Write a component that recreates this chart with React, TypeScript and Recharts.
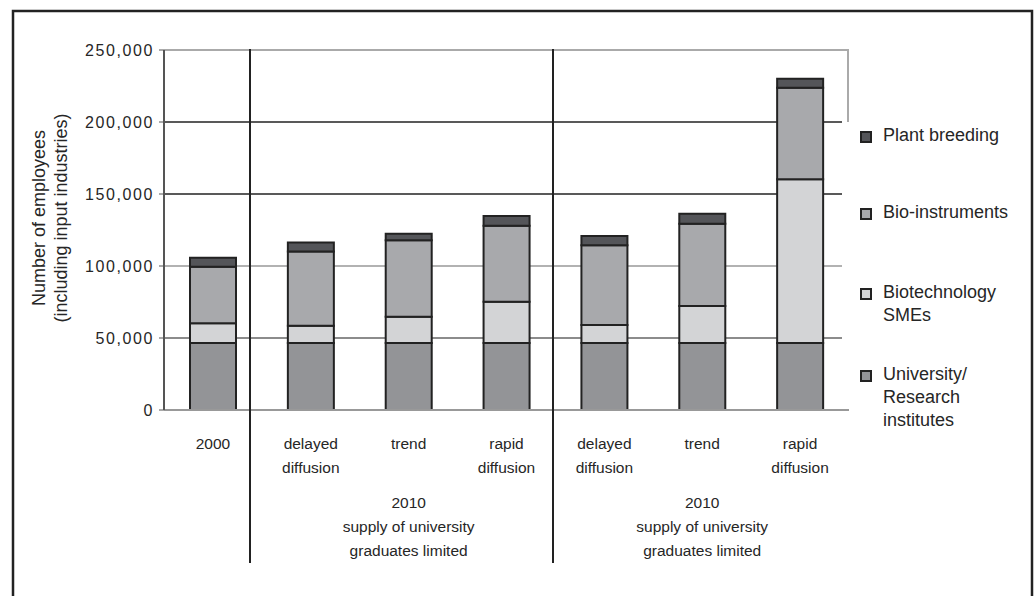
import React from "react";
import { BarChart, Bar, XAxis, YAxis, CartesianGrid } from "recharts";

// Values (employees, stacked bottom → top)
const CATEGORIES = [
  "2000",
  "delayed\ndiffusion",
  "trend",
  "rapid\ndiffusion",
  "delayed\ndiffusion",
  "trend",
  "rapid\ndiffusion",
];
const UNIVERSITY = [46500, 46500, 46500, 46500, 46500, 46500, 46500];
const SMES = [13700, 12000, 18300, 28700, 12500, 25700, 113700];
const BIO_INSTRUMENTS = [39300, 51500, 53000, 52800, 55400, 57200, 63600];
const PLANT_BREEDING = [6300, 6400, 4600, 6700, 6400, 6900, 6300];

const Y_TICKS = [0, 50000, 100000, 150000, 200000, 250000];
const GROUP_LABEL = ["2010", "supply of university", "graduates limited"];
const GROUP_CENTERS = [2, 5]; // category index under which the group caption sits

const SERIES = [
  { key: "plant", name: "Plant breeding", color: "#545559" },
  { key: "bio", name: "Bio-instruments", color: "#a8a9ac" },
  { key: "sme", name: "Biotechnology\nSMEs", color: "#d3d4d6" },
  { key: "uni", name: "University/\nResearch\ninstitutes", color: "#939497" },
];

const data = CATEGORIES.map((label, i) => ({
  id: i,
  label,
  uni: UNIVERSITY[i],
  sme: SMES[i],
  bio: BIO_INSTRUMENTS[i],
  plant: PLANT_BREEDING[i],
}));

const FONT = "'Liberation Sans', Arial, sans-serif";
const INK = "#262626";
const EDGE = "#222";
const GRID_COLOR: Record<number, string> = {
  50000: "#666",
  100000: "#999",
  150000: "#222",
  200000: "#222",
};
const LEGEND_TOPS = [124, 201, 281, 363];

function CategoryTick(props: any) {
  const { x, y, payload, index } = props;
  const lines = CATEGORIES[payload.value].split("\n");
  return (
    <g>
      {lines.map((t, i) => (
        <text key={i} x={x} y={y + 39 + i * 24} textAnchor="middle" fontSize={15.5} fill={INK} fontFamily={FONT}>
          {t}
        </text>
      ))}
      {GROUP_CENTERS.includes(index) &&
        GROUP_LABEL.map((t, i) => (
          <text key={"g" + i} x={x} y={y + 98 + i * 24} textAnchor="middle" fontSize={15.5} fill={INK} fontFamily={FONT}>
            {t}
          </text>
        ))}
    </g>
  );
}

function GridShape(props: any) {
  const { x1, x2, y1, y2, stroke } = props;
  return <line x1={x1} x2={x2 - 7} y1={y1} y2={y2} stroke={stroke} strokeWidth={1.5} />;
}

function LegendBox() {
  return (
    <div style={{ position: "absolute", left: 860, top: 0, width: 170, height: 596 }}>
      {SERIES.map((s, i) => (
        <div key={s.key} style={{ position: "absolute", left: 0, top: LEGEND_TOPS[i], display: "flex" }}>
          <div
            style={{
              width: 8,
              height: 8,
              marginTop: 7,
              background: s.color,
              border: `2px solid ${EDGE}`,
            }}
          />
          <div
            style={{
              marginLeft: 11,
              fontSize: 18,
              lineHeight: "23px",
              color: INK,
              fontFamily: FONT,
              whiteSpace: "pre",
            }}
          >
            {s.name}
          </div>
        </div>
      ))}
    </div>
  );
}

export default function App() {
  return (
    <div
      style={{
        position: "absolute",
        left: 0,
        top: 0,
        width: 1036,
        height: 596,
        background: "#fff",
        fontFamily: FONT,
        overflow: "hidden",
      }}
    >
      <BarChart
        width={1036}
        height={596}
        data={data}
        margin={{ top: 50, right: 187, bottom: 36, left: 104 }}
        barSize={46}
      >
        {Y_TICKS.filter((v) => GRID_COLOR[v]).map((v) => (
          <CartesianGrid
            key={v}
            vertical={false}
            horizontalValues={[v]}
            stroke={GRID_COLOR[v]}
            horizontal={<GridShape />}
          />
        ))}
        <CartesianGrid vertical={false} horizontalValues={[250000]} stroke="#aaa" strokeWidth={2} />
        <XAxis
          dataKey="id"
          type="category"
          height={150}
          interval={0}
          tickLine={false}
          tickSize={0}
          tickMargin={0}
          axisLine={{ stroke: "#999", strokeWidth: 2 }}
          tick={<CategoryTick />}
        />
        <YAxis
          width={60}
          domain={[0, 250000]}
          ticks={Y_TICKS}
          interval={0}
          tickSize={5}
          tickMargin={5}
          axisLine={{ stroke: "#555", strokeWidth: 2 }}
          tickLine={{ stroke: "#555" }}
          tick={{ fontSize: 16, fill: INK, fontFamily: FONT, letterSpacing: 1.6 }}
          tickFormatter={(v: number) => v.toLocaleString("en-US")}
        />
        <Bar dataKey="uni" stackId="a" fill="#939497" stroke={EDGE} strokeWidth={2} isAnimationActive={false} />
        <Bar dataKey="sme" stackId="a" fill="#d3d4d6" stroke={EDGE} strokeWidth={2} isAnimationActive={false} />
        <Bar dataKey="bio" stackId="a" fill="#a8a9ac" stroke={EDGE} strokeWidth={2} isAnimationActive={false} />
        <Bar dataKey="plant" stackId="a" fill="#545559" stroke={EDGE} strokeWidth={2} isAnimationActive={false} />
      </BarChart>

      <LegendBox />

      {/* frame, group separators, plot-area bracket and axis title */}
      <svg width={1036} height={596} style={{ position: "absolute", left: 0, top: 0, pointerEvents: "none" }}>
        <path d="M13,605 L13,11 L1032,11 L1032,605" fill="none" stroke={EDGE} strokeWidth={2.5} />
        <line x1={250} x2={250} y1={49} y2={563} stroke={EDGE} strokeWidth={2} />
        <line x1={553} x2={553} y1={49} y2={563} stroke={EDGE} strokeWidth={2} />
        <line x1={848} x2={848} y1={49} y2={122} stroke="#aaa" strokeWidth={2} />
        <g transform="translate(45,218) rotate(-90)">
          <text x={0} y={0} textAnchor="middle" fontSize={18} fill={INK} fontFamily={FONT}>
            Number of employees
          </text>
          <text x={0} y={22} textAnchor="middle" fontSize={18} fill={INK} fontFamily={FONT}>
            (including input industries)
          </text>
        </g>
      </svg>
    </div>
  );
}
